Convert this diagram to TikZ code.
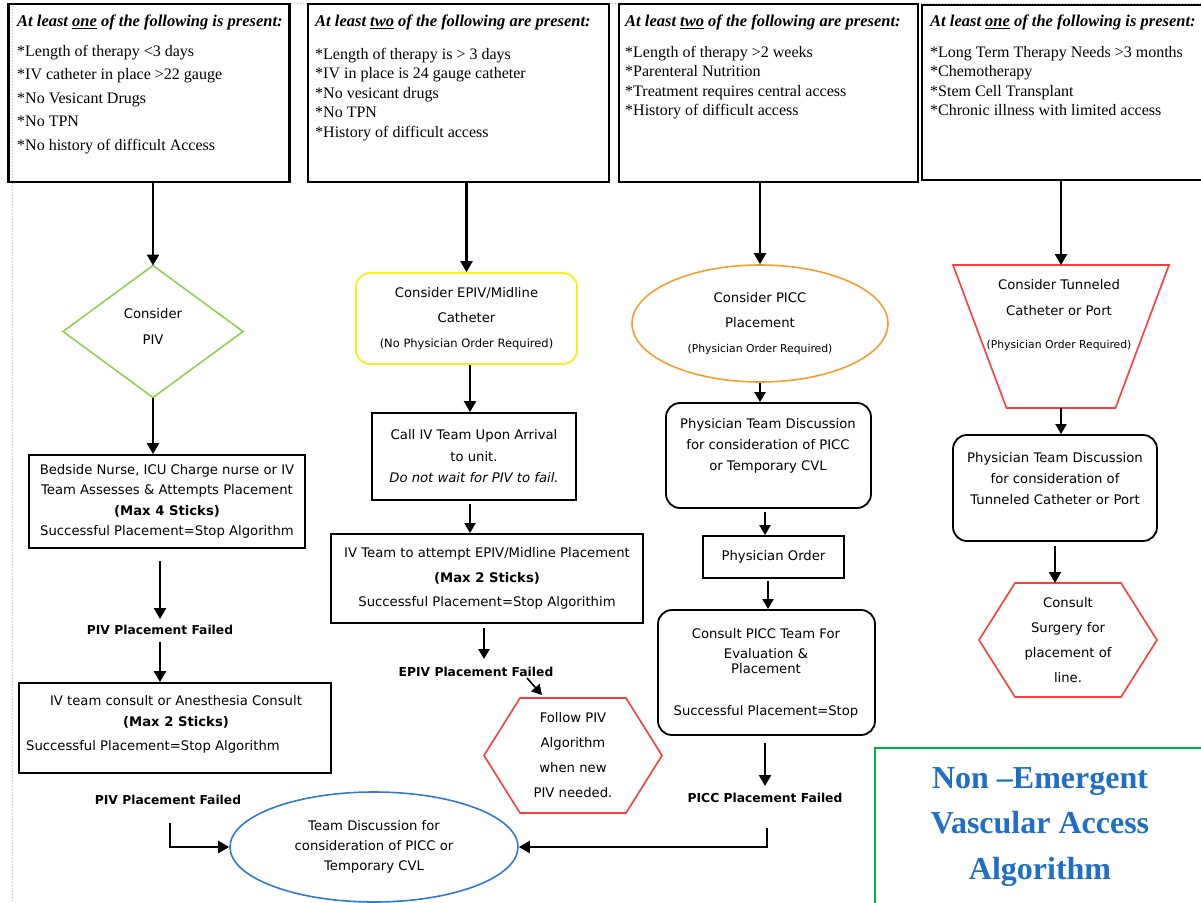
\documentclass[tikz,border=0pt]{standalone}
\usepackage{fontspec}
\setmainfont{Liberation Serif}
\setsansfont{DejaVu Sans}
\usetikzlibrary{shapes.geometric,arrows.meta,calc}
\definecolor{marginblue}{HTML}{9DB5E8}
\definecolor{dgreen}{HTML}{92D050}
\definecolor{dyellow}{HTML}{F5F01A}
\definecolor{dorange}{HTML}{F59E2E}
\definecolor{dred}{HTML}{FF3B3B}
\definecolor{dblue}{HTML}{2E7BCF}
\definecolor{tgreen}{HTML}{00B050}
\definecolor{tblue}{HTML}{1F6FC8}
\tikzset{
 topbox/.style={draw, line width=2.4pt, inner sep=0pt},
 hdr/.style={anchor=base west, inner sep=0pt, font={\fontsize{16.5}{19}\selectfont\bfseries\itshape}},
 itemsA/.style={anchor=north west, inner sep=0pt, align=left, font={\fontsize{16}{19.5}\selectfont}},
 flowtxt/.style={inner sep=0pt, align=center, font={\sffamily\fontsize{13.2}{20.5}\selectfont}},
 rectbox/.style={draw, line width=1.8pt, inner sep=0pt},
 roundbox/.style={rectbox, rounded corners=14pt},
 shapeframe/.style={inner sep=0pt, outer sep=0pt},
 fail/.style={inner sep=0pt, font={\sffamily\bfseries\fontsize{12.3}{14}\selectfont}},
 arr/.style={-{Triangle[width=12pt,length=11pt]}, line width=2.4pt},
 sarr/.style={-{Triangle[width=11pt,length=10pt]}, line width=2pt},
 marginline/.style={draw=marginblue, dotted, line width=1pt},
}
\begin{document}
\begin{tikzpicture}[x=1pt,y=-1pt]
\useasboundingbox (0,0) rectangle (1201,902);
\fill[white] (0,0) rectangle (1201,902);
% page margin guides
\draw[marginline] (12,3) -- (1201,3);
\draw[marginline] (12,3) -- (12,902);

% top condition boxes
\node[topbox, minimum width=281pt, minimum height=178pt] (t1) at (149,93) {};
\node[topbox, minimum width=301pt, minimum height=178pt] (t2) at (458.5,93) {};
\node[topbox, minimum width=299pt, minimum height=178pt] (t3) at (768.5,93) {};
\node[topbox, minimum width=288pt, minimum height=175pt] (t4) at (1066,92.5) {};

\node[hdr] (h1) at (17,27) {At least \underline{one} of the following is present:};
\node[hdr] (h2) at (315,27) {At least \underline{two} of the following are present:};
\node[hdr] (h3) at (625,27) {At least \underline{two} of the following are present:};
\node[hdr] (h4) at (930,27) {At least \underline{one} of the following is present:};

\node[itemsA, font={\fontsize{16}{23.5}\selectfont}] (i1) at (17,45) {*Length of therapy <3 days\\*IV catheter in place >22 gauge\\*No Vesicant Drugs\\*No TPN\\*No history of difficult Access};
\node[itemsA] (i2) at (315,48) {*Length of therapy is > 3 days\\*IV in place is 24 gauge catheter\\*No vesicant drugs\\*No TPN\\*History of difficult access};
\node[itemsA] (i3) at (625,46) {*Length of therapy >2 weeks\\*Parenteral Nutrition\\*Treatment requires central access\\*History of difficult access};
\node[itemsA] (i4) at (930,46) {*Long Term Therapy Needs >3 months\\*Chemotherapy\\*Stem Cell Transplant\\*Chronic illness with limited access};

% ---------- column 1 ----------
\node[shapeframe, minimum width=180pt, minimum height=132pt] (dia) at (153,331.5) {};
\draw[dgreen, line width=1.6pt] (dia.north) -- (dia.east) -- (dia.south) -- (dia.west) -- cycle;
\node[flowtxt, font={\sffamily\fontsize{13.2}{26}\selectfont}] (diat) at (153,326) {Consider\\PIV};
\draw[arr] (t1.south -| dia.north) -- (dia.north);

\node[rectbox, flowtxt, minimum width=276pt, minimum height=93pt] (b1) at (167,501.5) {Bedside Nurse, ICU Charge nurse or IV\\Team Assesses \& Attempts Placement\\\textbf{(Max 4 Sticks)}\\Successful Placement=Stop Algorithm};
\draw[arr] (dia.south) -- (dia.south |- b1.north);

\node[fail] (f1) at (160,630) {PIV Placement Failed};
\draw[arr, shorten <=12pt, shorten >=6pt] (b1.south -| f1.north) -- (f1.north);

\node[rectbox, minimum width=312pt, minimum height=90pt] (b2) at (175,728) {};
\node[flowtxt] (b2t) at (176,712) {IV team consult or Anesthesia Consult\\\textbf{(Max 2 Sticks)}};
\node[flowtxt, anchor=west] (b2s) at (26,747) {Successful Placement=Stop Algorithm};
\draw[arr, shorten <=7pt] (f1.south) -- (f1.south |- b2.north);

\node[fail] (f2) at (168,800) {PIV Placement Failed};
\coordinate (e1) at (170,823);

% blue ellipse
\node[ellipse, draw=dblue, line width=1.6pt, inner sep=0pt, minimum width=288pt, minimum height=110pt, flowtxt, font={\sffamily\fontsize{13.2}{20}\selectfont}] (ell) at (374,847) {Team Discussion for\\consideration of PICC or\\Temporary CVL};
\draw[arr] (e1) |- (ell.west);

% ---------- column 2 ----------
\node[roundbox, draw=dyellow, line width=1.8pt, flowtxt, font={\sffamily\fontsize{13.2}{25}\selectfont}, minimum width=221pt, minimum height=91pt] (yb) at (466.5,318.5) {Consider EPIV/Midline\\Catheter\\{\fontsize{11.5}{13}\selectfont (No Physician Order Required)}};
\draw[arr] (t2.south -| yb.north) -- (yb.north);

\node[rectbox, flowtxt, font={\sffamily\fontsize{13.2}{21.5}\selectfont}, minimum width=204pt, minimum height=87pt] (c1) at (474,456.5) {Call IV Team Upon Arrival\\to unit.\\\textit{Do not wait for PIV to fail.}};
\draw[arr] ([xshift=3.5pt]yb.south) -- ([xshift=3.5pt]yb.south |- c1.north);

\node[rectbox, flowtxt, font={\sffamily\fontsize{13.2}{24.5}\selectfont}, minimum width=312pt, minimum height=89pt] (c2) at (487,578.5) {IV Team to attempt EPIV/Midline Placement\\\textbf{(Max 2 Sticks)}\\Successful Placement=Stop Algorithim};
\draw[sarr, shorten <=3pt] ([xshift=-4pt]c1.south) -- ([xshift=-4pt]c1.south |- c2.north);

\node[fail] (f3) at (476,672) {EPIV Placement Failed};
\draw[sarr, shorten <=4pt, shorten >=8pt] ([xshift=-3pt]c2.south) -- ([xshift=-3pt]c2.south |- f3.north);

\node[shapeframe, flowtxt, font={\sffamily\fontsize{13.2}{25}\selectfont}, minimum width=178pt, minimum height=115pt] (hx1) at (573,755.5) {Follow PIV\\Algorithm\\when new\\PIV needed.};
\draw[dred, line width=1.6pt] ($(hx1.north west)+(36,0)$) -- ($(hx1.north east)+(-36,0)$) -- (hx1.east) -- ($(hx1.south east)+(-36,0)$) -- ($(hx1.south west)+(36,0)$) -- (hx1.west) -- cycle;
\coordinate (d1) at (527,678);
\draw[sarr, line width=1.6pt] (d1) -- ($(hx1.north)+(-31,-3)$);

% ---------- column 3 ----------
\node[ellipse, draw=dorange, line width=1.6pt, inner sep=0pt, minimum width=256pt, minimum height=117pt, flowtxt, font={\sffamily\fontsize{13.2}{25}\selectfont}] (or) at (760,323.5) {Consider PICC\\Placement\\{\fontsize{10.8}{12}\selectfont (Physician Order Required)}};
\draw[arr] (t3.south -| or.north) -- (or.north);

\node[roundbox, minimum width=205pt, minimum height=105pt] (pd1) at (768.5,455.5) {};
\node[flowtxt, font={\sffamily\fontsize{13.2}{21}\selectfont}] (pd1t) at (768,446) {Physician Team Discussion\\for consideration of PICC\\or Temporary CVL};
\draw[sarr] (or.south) -- (or.south |- pd1.north);

\node[rectbox, flowtxt, minimum width=141pt, minimum height=42pt] (po) at (773.5,557) {Physician Order};
\draw[sarr, shorten <=3pt] ([xshift=-3.5pt]pd1.south) -- ([xshift=-3.5pt]pd1.south |- po.north);

\node[roundbox, minimum width=217pt, minimum height=125pt] (pc) at (766.5,672.5) {};
\node[flowtxt, font={\sffamily\fontsize{13.2}{15.5}\selectfont}] (pct) at (766,651) {Consult PICC Team For\\[4.5pt]Evaluation \&\\Placement};
\node[flowtxt] (pcs) at (766,712) {Successful Placement=Stop};
\draw[sarr, shorten <=2pt] ([xshift=-5.5pt]po.south) -- ([xshift=-5.5pt]po.south |- pc.north);

\node[fail] (f4) at (765,798) {PICC Placement Failed};
\draw[arr, shorten <=7pt, shorten >=7pt] (pc.south -| f4.north) -- (f4.north);
\coordinate (e2) at (767,828);
\draw[arr] (e2) |- (ell.east);

% ---------- column 4 ----------
\node[shapeframe, minimum width=216pt, minimum height=143pt] (tz) at (1061,336.5) {};
\draw[dred, line width=1.6pt] (tz.north west) -- (tz.north east) -- ($(tz.south east)+(-53.5,0)$) -- ($(tz.south west)+(53.5,0)$) -- cycle;
\node[flowtxt, font={\sffamily\fontsize{13.2}{26}\selectfont}] (tzt) at (1059,315) {Consider Tunneled\\Catheter or Port\\[7pt]{\fontsize{10.8}{12}\selectfont (Physician Order Required)}};
\draw[arr] (t4.south -| tz.north) -- (tz.north);

\node[roundbox, minimum width=204pt, minimum height=106pt] (pd2) at (1055,488) {};
\node[flowtxt, font={\sffamily\fontsize{13.2}{21}\selectfont}] (pd2t) at (1055,479) {Physician Team Discussion\\for consideration of\\Tunneled Catheter or Port};
\draw[sarr] (tz.south) -- (tz.south |- pd2.north);

\node[shapeframe, flowtxt, font={\sffamily\fontsize{13.2}{25}\selectfont}, minimum width=178pt, minimum height=114pt] (hx2) at (1068,640) {Consult\\Surgery for\\placement of\\line.};
\draw[dred, line width=1.6pt] ($(hx2.north west)+(36,0)$) -- ($(hx2.north east)+(-36,0)$) -- (hx2.east) -- ($(hx2.south east)+(-36,0)$) -- ($(hx2.south west)+(36,0)$) -- (hx2.west) -- cycle;
\draw[arr, shorten <=4pt] (pd2.south) -- (pd2.south |- hx2.north);

% title
\node[draw=tgreen, line width=1.8pt, inner sep=0pt, minimum width=335pt, minimum height=162pt] (tb) at (1042.5,829) {};
\node[inner sep=0pt, align=center, text=tblue, font={\fontsize{32}{45.5}\selectfont\bfseries}] (tt) at (1040,827) {Non –Emergent\\Vascular Access\\Algorithm};
\end{tikzpicture}
\end{document}
